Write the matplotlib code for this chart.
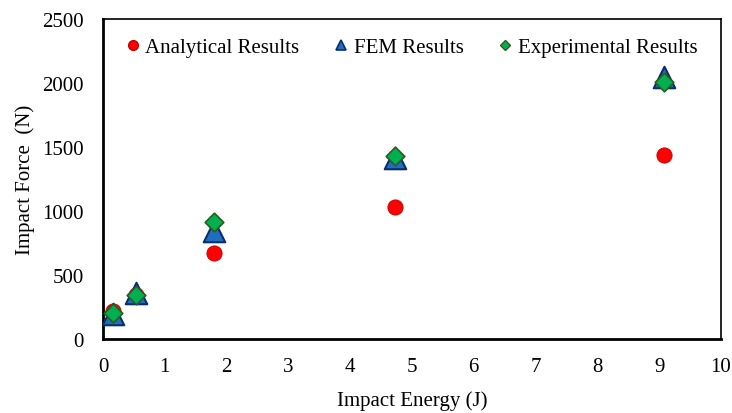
import matplotlib
matplotlib.use("Agg")
import matplotlib.pyplot as plt

energy = [0.16, 0.54, 1.8, 4.73, 9.07]
analytical = [215, 345, 672, 1030, 1435]
fem = [195, 360, 840, 1415, 2045]
experimental = [205, 345, 915, 1430, 2010]

x_ticks = [0, 1, 2, 3, 4, 5, 6, 7, 8, 9, 10]
y_ticks = [0, 500, 1000, 1500, 2000, 2500]

plt.rcParams['font.family'] = ['Liberation Serif', 'DejaVu Serif']

fig = plt.figure(figsize=(7.32, 4.14), dpi=100)
ax = fig.add_axes([103 / 732, 1 - 340 / 414, (721 - 103) / 732, (340 - 20) / 414])

ax.scatter(energy, analytical, s=120, marker='o', color='#FF0000',
           edgecolors='#C00000', linewidths=0.6, zorder=3, label='Analytical Results')
ax.scatter(energy, fem, s=240, marker='^', color='#1F6FC0',
           edgecolors='#0B2E6B', linewidths=1.5, zorder=4, label='FEM Results')
ax.scatter(energy, experimental, s=90, marker='D', color='#00B050',
           edgecolors='#2E5A1F', linewidths=1.2, zorder=5, label='Experimental Results')

ax.set_xlim(0, 10)
ax.set_ylim(0, 2500)
ax.set_xticks(x_ticks)
ax.set_yticks(y_ticks)
ax.tick_params(axis='x', length=0, labelsize=15, pad=13)
ax.tick_params(axis='y', length=0, labelsize=15, pad=14)

for side in ('left', 'bottom'):
    ax.spines[side].set_linewidth(2.0)
for side in ('top', 'right'):
    ax.spines[side].set_linewidth(1.2)

ax.set_xlabel('Impact Energy (J)', fontsize=15, labelpad=10)
ax.set_ylabel('Impact Force  (N)', fontsize=15, labelpad=5)

handles = [
    plt.Line2D([], [], marker='o', ls='none', color='#FF0000', markeredgecolor='#C00000',
               markersize=7),
    plt.Line2D([], [], marker='^', ls='none', color='#1F6FC0', markeredgecolor='#0B2E6B',
               markersize=7, markeredgewidth=1.2),
    plt.Line2D([], [], marker='D', ls='none', color='#00B050', markeredgecolor='#2E5A1F',
               markersize=5),
]
ax.legend(handles, ['Analytical Results', 'FEM Results', 'Experimental Results'],
          loc='upper center', bbox_to_anchor=(0.495, 1.0), ncol=3, frameon=False,
          fontsize=15, handletextpad=0.0, columnspacing=1.4, handlelength=1.2)

fig.savefig('out.png', dpi=100)
